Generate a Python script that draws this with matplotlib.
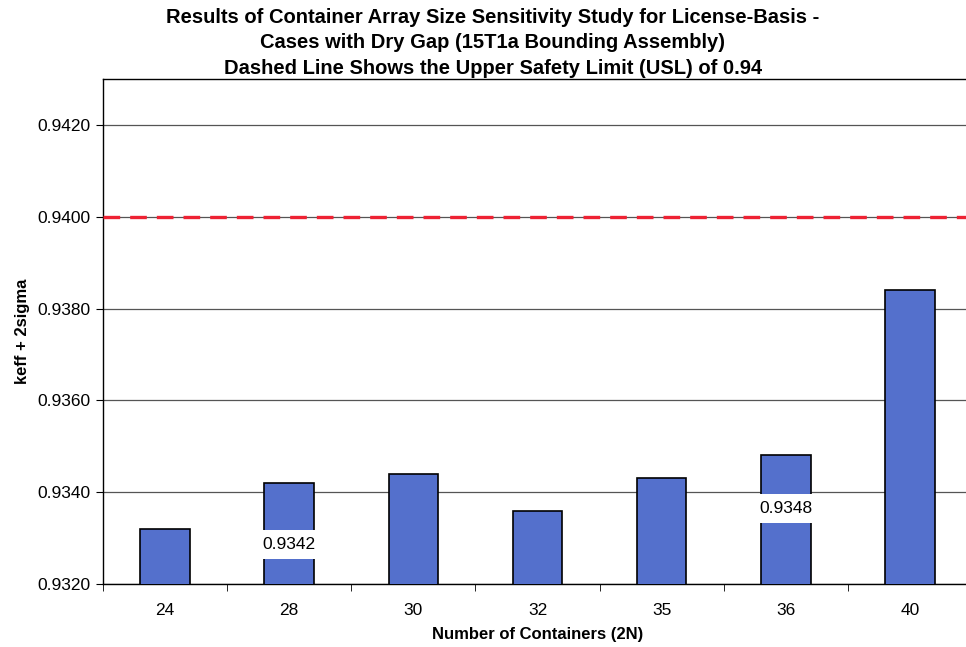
import matplotlib
matplotlib.use("Agg")
import matplotlib.pyplot as plt
import numpy as np

categories = ["24", "28", "30", "32", "35", "36", "40"]
values = [0.9332, 0.9342, 0.9344, 0.9336, 0.9343, 0.9348, 0.9384]
usl = 0.94
labelled = {1: 0.93287, 5: 0.93365}   # bar index -> label y position
yticks = [0.9320, 0.9340, 0.9360, 0.9380, 0.9400, 0.9420]

plt.rcParams['font.family'] = ['Liberation Sans', 'DejaVu Sans']

W, H = 966, 647
fig = plt.figure(figsize=(W / 100, H / 100), dpi=100)
left, right, top, bottom = 103, 972, 79, 584
ax = fig.add_axes([left / W, 1 - bottom / H, (right - left) / W, (bottom - top) / H])

x = np.arange(len(categories))
ax.bar(x, values, width=0.4, color="#5470CC", edgecolor="black", linewidth=1.2, zorder=3)

ax.set_ylim(0.9320, 0.9430)
ax.set_xlim(-0.5, len(categories) - 0.5)
ax.set_yticks(yticks)
ax.set_yticklabels([f"{v:.4f}" for v in yticks], fontsize=12.5)
ax.yaxis.grid(True, color="#555555", linewidth=0.9, zorder=0)
ax.set_xticks(x)
ax.set_xticklabels(categories, fontsize=12.5)
ax.set_xticks(np.arange(len(categories) + 1) - 0.5, minor=True)
ax.tick_params(axis="x", which="major", length=0, pad=14)
ax.tick_params(axis="x", which="minor", length=5, direction="out")
ax.tick_params(axis="y", length=5, direction="out", pad=4)

ax.axhline(usl, color="#EE2233", linewidth=2.4, dashes=(5, 3), zorder=4)

for i, ypos in labelled.items():
    ax.text(i, ypos, f"{values[i]:.4f}", ha="center", va="center", fontsize=12.5, zorder=5,
            bbox=dict(facecolor="white", edgecolor="none", boxstyle="square,pad=0.4"))

ax.spines["right"].set_visible(False)
for s in ["left", "top", "bottom"]:
    ax.spines[s].set_color("black")
    ax.spines[s].set_linewidth(1.0)

ax.set_xlabel("Number of Containers (2N)", fontsize=12, fontweight="bold", labelpad=6)
ax.set_ylabel("keff + 2sigma", fontsize=12, fontweight="bold", labelpad=5)

fig.text(493 / W, 1 - 8 / H,
         "Results of Container Array Size Sensitivity Study for License-Basis -\n"
         "Cases with Dry Gap (15T1a Bounding Assembly)\n"
         "Dashed Line Shows the Upper Safety Limit (USL) of 0.94",
         ha="center", va="top", fontsize=14.5, fontweight="bold", linespacing=1.42)

fig.savefig("out.png", dpi=100)
